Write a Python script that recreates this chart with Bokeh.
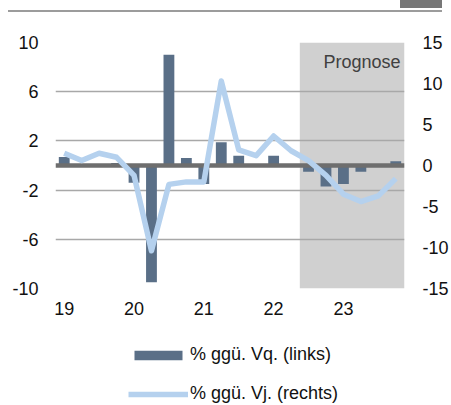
from bokeh.plotting import figure
from bokeh.models import (Range1d, LinearAxis, FixedTicker, BoxAnnotation, Label,
                          Legend, LegendItem, Div, ColumnDataSource)
from bokeh.layouts import column
from bokeh.embed import file_html
from bokeh.resources import INLINE

# ---------------- data ----------------
quarters = ["2019Q1", "2019Q2", "2019Q3", "2019Q4",
            "2020Q1", "2020Q2", "2020Q3", "2020Q4",
            "2021Q1", "2021Q2", "2021Q3", "2021Q4",
            "2022Q1", "2022Q2", "2022Q3", "2022Q4",
            "2023Q1", "2023Q2", "2023Q3", "2023Q4"]
qoq = [0.7, 0.1, 0.1, 0.2, -1.4, -9.5, 9.0, 0.6, -1.5, 1.9,
       0.8, 0.1, 0.8, 0.1, -0.5, -1.7, -1.5, -0.5, 0.0, 0.35]
yoy = [1.5, 0.6, 1.5, 1.0, -1.2, -10.4, -2.3, -2.0, -2.0, 10.3,
       1.9, 1.2, 3.6, 1.8, 0.6, -1.2, -3.5, -4.4, -3.7, -1.6]
year_labels = ["19", "20", "21", "22", "23"]
left_ticks = [-10, -6, -2, 2, 6, 10]
right_ticks = [-15, -10, -5, 0, 5, 10, 15]
forecast_from = "2022Q3"
forecast_label = "Prognose"
label_bar = "% ggü. Vq. (links)"
label_line = "% ggü. Vj. (rechts)"

FONT = "Liberation Sans"
BAR_COLOR = "#5a6f87"
LINE_COLOR = "#b5d1ee"
ZERO_COLOR = "#6e6e6e"
GRID_COLOR = "#a8a8a8"
SHADE_COLOR = "#d0d0d0"

x = list(range(len(quarters)))
src = ColumnDataSource(dict(x=x, qoq=qoq, yoy=yoy))
year_ticks = [i for i, q in enumerate(quarters) if q.endswith("Q1")]

# ---------------- header decoration ----------------
header = Div(
    text=('<div style="position:relative;width:451px;height:13px;">'
          '<div style="position:absolute;left:8px;top:10px;width:434px;height:0;'
          'border-top:2px solid #9c9c9c;"></div>'
          '<div style="position:absolute;left:400px;top:0;width:42px;height:8px;'
          'background:#777777;"></div></div>'),
    width=451, height=13, margin=0)

# ---------------- main figure ----------------
p = figure(width=451, height=307,
           x_range=Range1d(-0.5, len(quarters) - 0.5),
           y_range=Range1d(left_ticks[0], left_ticks[-1]),
           output_backend="svg", toolbar_location=None,
           min_border_left=55, min_border_right=44,
           min_border_top=29, min_border_bottom=32)
p.outline_line_color = None
p.background_fill_color = "white"
p.border_fill_color = "white"

p.extra_y_ranges = {"yoy": Range1d(right_ticks[0], right_ticks[-1])}

fi = quarters.index(forecast_from)
shade = BoxAnnotation(left=fi - 0.5, fill_color=SHADE_COLOR, fill_alpha=1.0,
                      line_color=None, level="image")
p.add_layout(shade)

bars = p.vbar(x="x", top="qoq", width=0.62, source=src,
              fill_color=BAR_COLOR, line_color=None)
p.hspan(y=0, line_color=ZERO_COLOR, line_width=4.5)
line = p.line(x="x", y="yoy", source=src, y_range_name="yoy",
              line_color=LINE_COLOR, line_width=5.5, line_join="round")

def style_axis(ax, standoff):
    ax.axis_line_color = None
    ax.major_tick_line_color = None
    ax.minor_tick_line_color = None
    ax.major_tick_out = 0
    ax.major_tick_in = 0
    ax.minor_tick_out = 0
    ax.minor_tick_in = 0
    ax.major_label_text_font = FONT
    ax.major_label_text_font_size = "18px"
    ax.major_label_text_color = "#111111"
    ax.major_label_standoff = standoff

p.yaxis.ticker = FixedTicker(ticks=left_ticks)
p.yaxis.major_label_overrides = {t: str(t) for t in left_ticks}
style_axis(p.yaxis[0], 17)

p.xaxis.ticker = FixedTicker(ticks=year_ticks)
p.xaxis.major_label_overrides = {t: lab for t, lab in zip(year_ticks, year_labels)}
style_axis(p.xaxis[0], 13)

raxis = LinearAxis(y_range_name="yoy", ticker=FixedTicker(ticks=right_ticks))
raxis.major_label_overrides = {t: str(t) for t in right_ticks}
style_axis(raxis, 18)
p.add_layout(raxis, "right")

p.xgrid.visible = False
p.ygrid.ticker = FixedTicker(ticks=left_ticks)
p.ygrid.grid_line_color = GRID_COLOR
p.ygrid.grid_line_width = 1.3

p.add_layout(Label(x=len(quarters) - 0.5, y=8.4, x_offset=-4, text=forecast_label,
                   text_align="right", text_baseline="middle",
                   text_font=FONT, text_font_size="18px", text_color="#404040"))

# ---------------- legend strip ----------------
lg = figure(width=451, height=85, x_range=Range1d(-0.5, len(quarters) - 0.5),
            y_range=Range1d(left_ticks[0], left_ticks[-1]),
            output_backend="svg", toolbar_location=None,
            x_axis_location=None, y_axis_location=None,
            min_border_left=0, min_border_right=0, min_border_top=0, min_border_bottom=0)
lg.grid.visible = False
lg.outline_line_color = None
# legend keys: same series, hidden in this strip (only their legend swatches show)
key_bar = lg.vbar(x="x", top="qoq", width=0.62, source=src,
                  fill_color=BAR_COLOR, line_color=None, visible=False)
key_line = lg.line(x="x", y="yoy", source=src,
                   line_color=LINE_COLOR, line_width=5.5, visible=False)

legend = Legend(items=[LegendItem(label=label_bar, renderers=[key_bar]),
                       LegendItem(label=label_line, renderers=[key_line])],
                location=(73, 1), orientation="vertical",
                glyph_width=60, glyph_height=12, label_height=20, spacing=18,
                padding=0, margin=0, label_standoff=2,
                border_line_color=None, background_fill_alpha=0,
                inactive_fill_alpha=0,
                label_text_font=FONT, label_text_font_size="18px",
                label_text_color="#111111")
lg.add_layout(legend)

layout = column(header, p, lg, spacing=0)
open("out.html", "w").write(file_html(layout, INLINE))
